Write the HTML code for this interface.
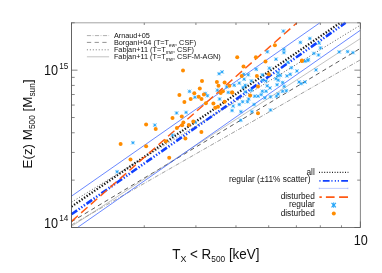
<!DOCTYPE html>
<html><head><meta charset="utf-8"><title>plot</title>
<style>
html,body{margin:0;padding:0;background:#fff;}
svg{display:block;will-change:transform;transform:translateZ(0);}
text{font-family:"Liberation Sans",sans-serif;fill:#111;}
</style></head><body>
<svg width="382" height="273" viewBox="0 0 382 273">
<rect width="382" height="273" fill="#fff"/>
<line x1="71.5" y1="224.94" x2="360.4" y2="59.84" stroke="#606060" stroke-width="0.6" stroke-dasharray="4.2 1.5 0.8 1.5" stroke-linecap="butt" />
<line x1="71.5" y1="221.74" x2="360.4" y2="48.34" stroke="#484848" stroke-width="0.9" stroke-dasharray="4.3 3.4" stroke-linecap="butt" />
<line x1="71.5" y1="202.24" x2="360.4" y2="25.14" stroke="#333" stroke-width="0.8" stroke-dasharray="1 2" stroke-linecap="butt" />
<line x1="71.5" y1="226.33" x2="360.4" y2="38.53" stroke="#999" stroke-width="0.6" stroke-linecap="butt" />
<line x1="71.5" y1="196.13" x2="319.84" y2="22.8" stroke="#2a55ff" stroke-width="0.7" stroke-linecap="butt" />
<line x1="77.5" y1="227.5" x2="360.4" y2="30.23" stroke="#2a55ff" stroke-width="0.7" stroke-linecap="butt" />
<line x1="71.5" y1="206.6" x2="340.2" y2="22.8" stroke="#111" stroke-width="2.3" stroke-dasharray="1.3 1.75" stroke-linecap="butt" />
<line x1="71.5" y1="214.3" x2="345.6" y2="22.8" stroke="#1040ff" stroke-width="2.6" stroke-dasharray="6.9 1.85 1.3 1.85 1.3 1.85 1.3 1.9" stroke-linecap="butt" />
<line x1="71.5" y1="221.4" x2="296.9" y2="22.8" stroke="#ff5a14" stroke-width="1.45" stroke-dasharray="8.5 4.37" stroke-linecap="butt" />
<defs><filter id="sb" x="-5%" y="-5%" width="110%" height="110%"><feGaussianBlur stdDeviation="0.4"/></filter></defs><g filter="url(#sb)">
<path d="M187.75 89.65L191.25 93.15M187.75 93.15L191.25 89.65" stroke="#25a5f8" stroke-width="0.7" fill="none"/><path d="M189.50 89.50V93.30M187.60 91.40H191.40" stroke="#25a5f8" stroke-width="0.45" fill="none"/><circle cx="189.50" cy="91.40" r="0.95" fill="#25a5f8"/>
<path d="M217.35 71.95L220.85 75.45M217.35 75.45L220.85 71.95" stroke="#25a5f8" stroke-width="0.7" fill="none"/><path d="M219.10 71.80V75.60M217.20 73.70H221.00" stroke="#25a5f8" stroke-width="0.45" fill="none"/><circle cx="219.10" cy="73.70" r="0.95" fill="#25a5f8"/>
<path d="M220.35 70.15L223.85 73.65M220.35 73.65L223.85 70.15" stroke="#25a5f8" stroke-width="0.7" fill="none"/><path d="M222.10 70.00V73.80M220.20 71.90H224.00" stroke="#25a5f8" stroke-width="0.45" fill="none"/><circle cx="222.10" cy="71.90" r="0.95" fill="#25a5f8"/>
<path d="M254.55 67.55L258.05 71.05M254.55 71.05L258.05 67.55" stroke="#25a5f8" stroke-width="0.7" fill="none"/><path d="M256.30 67.40V71.20M254.40 69.30H258.20" stroke="#25a5f8" stroke-width="0.45" fill="none"/><circle cx="256.30" cy="69.30" r="0.95" fill="#25a5f8"/>
<path d="M241.95 72.55L245.45 76.05M241.95 76.05L245.45 72.55" stroke="#25a5f8" stroke-width="0.7" fill="none"/><path d="M243.70 72.40V76.20M241.80 74.30H245.60" stroke="#25a5f8" stroke-width="0.45" fill="none"/><circle cx="243.70" cy="74.30" r="0.95" fill="#25a5f8"/>
<path d="M246.55 73.05L250.05 76.55M246.55 76.55L250.05 73.05" stroke="#25a5f8" stroke-width="0.7" fill="none"/><path d="M248.30 72.90V76.70M246.40 74.80H250.20" stroke="#25a5f8" stroke-width="0.45" fill="none"/><circle cx="248.30" cy="74.80" r="0.95" fill="#25a5f8"/>
<path d="M242.45 77.45L245.95 80.95M242.45 80.95L245.95 77.45" stroke="#25a5f8" stroke-width="0.7" fill="none"/><path d="M244.20 77.30V81.10M242.30 79.20H246.10" stroke="#25a5f8" stroke-width="0.45" fill="none"/><circle cx="244.20" cy="79.20" r="0.95" fill="#25a5f8"/>
<path d="M237.55 81.35L241.05 84.85M237.55 84.85L241.05 81.35" stroke="#25a5f8" stroke-width="0.7" fill="none"/><path d="M239.30 81.20V85.00M237.40 83.10H241.20" stroke="#25a5f8" stroke-width="0.45" fill="none"/><circle cx="239.30" cy="83.10" r="0.95" fill="#25a5f8"/>
<path d="M232.55 83.55L236.05 87.05M232.55 87.05L236.05 83.55" stroke="#25a5f8" stroke-width="0.7" fill="none"/><path d="M234.30 83.40V87.20M232.40 85.30H236.20" stroke="#25a5f8" stroke-width="0.45" fill="none"/><circle cx="234.30" cy="85.30" r="0.95" fill="#25a5f8"/>
<path d="M249.65 79.15L253.15 82.65M249.65 82.65L253.15 79.15" stroke="#25a5f8" stroke-width="0.7" fill="none"/><path d="M251.40 79.00V82.80M249.50 80.90H253.30" stroke="#25a5f8" stroke-width="0.45" fill="none"/><circle cx="251.40" cy="80.90" r="0.95" fill="#25a5f8"/>
<path d="M243.55 83.55L247.05 87.05M243.55 87.05L247.05 83.55" stroke="#25a5f8" stroke-width="0.7" fill="none"/><path d="M245.30 83.40V87.20M243.40 85.30H247.20" stroke="#25a5f8" stroke-width="0.45" fill="none"/><circle cx="245.30" cy="85.30" r="0.95" fill="#25a5f8"/>
<path d="M241.35 85.75L244.85 89.25M241.35 89.25L244.85 85.75" stroke="#25a5f8" stroke-width="0.7" fill="none"/><path d="M243.10 85.60V89.40M241.20 87.50H245.00" stroke="#25a5f8" stroke-width="0.45" fill="none"/><circle cx="243.10" cy="87.50" r="0.95" fill="#25a5f8"/>
<path d="M260.65 73.05L264.15 76.55M260.65 76.55L264.15 73.05" stroke="#25a5f8" stroke-width="0.7" fill="none"/><path d="M262.40 72.90V76.70M260.50 74.80H264.30" stroke="#25a5f8" stroke-width="0.45" fill="none"/><circle cx="262.40" cy="74.80" r="0.95" fill="#25a5f8"/>
<path d="M260.65 78.55L264.15 82.05M260.65 82.05L264.15 78.55" stroke="#25a5f8" stroke-width="0.7" fill="none"/><path d="M262.40 78.40V82.20M260.50 80.30H264.30" stroke="#25a5f8" stroke-width="0.45" fill="none"/><circle cx="262.40" cy="80.30" r="0.95" fill="#25a5f8"/>
<path d="M224.85 85.15L228.35 88.65M224.85 88.65L228.35 85.15" stroke="#25a5f8" stroke-width="0.7" fill="none"/><path d="M226.60 85.00V88.80M224.70 86.90H228.50" stroke="#25a5f8" stroke-width="0.45" fill="none"/><circle cx="226.60" cy="86.90" r="0.95" fill="#25a5f8"/>
<path d="M267.65 66.45L271.15 69.95M267.65 69.95L271.15 66.45" stroke="#25a5f8" stroke-width="0.7" fill="none"/><path d="M269.40 66.30V70.10M267.50 68.20H271.30" stroke="#25a5f8" stroke-width="0.45" fill="none"/><circle cx="269.40" cy="68.20" r="0.95" fill="#25a5f8"/>
<path d="M289.65 65.95L293.15 69.45M289.65 69.45L293.15 65.95" stroke="#25a5f8" stroke-width="0.7" fill="none"/><path d="M291.40 65.80V69.60M289.50 67.70H293.30" stroke="#25a5f8" stroke-width="0.45" fill="none"/><circle cx="291.40" cy="67.70" r="0.95" fill="#25a5f8"/>
<path d="M295.15 69.25L298.65 72.75M295.15 72.75L298.65 69.25" stroke="#25a5f8" stroke-width="0.7" fill="none"/><path d="M296.90 69.10V72.90M295.00 71.00H298.80" stroke="#25a5f8" stroke-width="0.45" fill="none"/><circle cx="296.90" cy="71.00" r="0.95" fill="#25a5f8"/>
<path d="M288.55 72.55L292.05 76.05M288.55 76.05L292.05 72.55" stroke="#25a5f8" stroke-width="0.7" fill="none"/><path d="M290.30 72.40V76.20M288.40 74.30H292.20" stroke="#25a5f8" stroke-width="0.45" fill="none"/><circle cx="290.30" cy="74.30" r="0.95" fill="#25a5f8"/>
<path d="M285.25 74.15L288.75 77.65M285.25 77.65L288.75 74.15" stroke="#25a5f8" stroke-width="0.7" fill="none"/><path d="M287.00 74.00V77.80M285.10 75.90H288.90" stroke="#25a5f8" stroke-width="0.45" fill="none"/><circle cx="287.00" cy="75.90" r="0.95" fill="#25a5f8"/>
<path d="M278.65 73.65L282.15 77.15M278.65 77.15L282.15 73.65" stroke="#25a5f8" stroke-width="0.7" fill="none"/><path d="M280.40 73.50V77.30M278.50 75.40H282.30" stroke="#25a5f8" stroke-width="0.45" fill="none"/><circle cx="280.40" cy="75.40" r="0.95" fill="#25a5f8"/>
<path d="M274.25 76.95L277.75 80.45M274.25 80.45L277.75 76.95" stroke="#25a5f8" stroke-width="0.7" fill="none"/><path d="M276.00 76.80V80.60M274.10 78.70H277.90" stroke="#25a5f8" stroke-width="0.45" fill="none"/><circle cx="276.00" cy="78.70" r="0.95" fill="#25a5f8"/>
<path d="M264.35 79.15L267.85 82.65M264.35 82.65L267.85 79.15" stroke="#25a5f8" stroke-width="0.7" fill="none"/><path d="M266.10 79.00V82.80M264.20 80.90H268.00" stroke="#25a5f8" stroke-width="0.45" fill="none"/><circle cx="266.10" cy="80.90" r="0.95" fill="#25a5f8"/>
<path d="M275.35 82.95L278.85 86.45M275.35 86.45L278.85 82.95" stroke="#25a5f8" stroke-width="0.7" fill="none"/><path d="M277.10 82.80V86.60M275.20 84.70H279.00" stroke="#25a5f8" stroke-width="0.45" fill="none"/><circle cx="277.10" cy="84.70" r="0.95" fill="#25a5f8"/>
<path d="M280.85 80.75L284.35 84.25M280.85 84.25L284.35 80.75" stroke="#25a5f8" stroke-width="0.7" fill="none"/><path d="M282.60 80.60V84.40M280.70 82.50H284.50" stroke="#25a5f8" stroke-width="0.45" fill="none"/><circle cx="282.60" cy="82.50" r="0.95" fill="#25a5f8"/>
<path d="M265.45 84.05L268.95 87.55M265.45 87.55L268.95 84.05" stroke="#25a5f8" stroke-width="0.7" fill="none"/><path d="M267.20 83.90V87.70M265.30 85.80H269.10" stroke="#25a5f8" stroke-width="0.45" fill="none"/><circle cx="267.20" cy="85.80" r="0.95" fill="#25a5f8"/>
<path d="M268.25 86.25L271.75 89.75M268.25 89.75L271.75 86.25" stroke="#25a5f8" stroke-width="0.7" fill="none"/><path d="M270.00 86.10V89.90M268.10 88.00H271.90" stroke="#25a5f8" stroke-width="0.45" fill="none"/><circle cx="270.00" cy="88.00" r="0.95" fill="#25a5f8"/>
<path d="M297.35 80.25L300.85 83.75M297.35 83.75L300.85 80.25" stroke="#25a5f8" stroke-width="0.7" fill="none"/><path d="M299.10 80.10V83.90M297.20 82.00H301.00" stroke="#25a5f8" stroke-width="0.45" fill="none"/><circle cx="299.10" cy="82.00" r="0.95" fill="#25a5f8"/>
<path d="M299.55 81.85L303.05 85.35M299.55 85.35L303.05 81.85" stroke="#25a5f8" stroke-width="0.7" fill="none"/><path d="M301.30 81.70V85.50M299.40 83.60H303.20" stroke="#25a5f8" stroke-width="0.45" fill="none"/><circle cx="301.30" cy="83.60" r="0.95" fill="#25a5f8"/>
<path d="M282.45 84.65L285.95 88.15M282.45 88.15L285.95 84.65" stroke="#25a5f8" stroke-width="0.7" fill="none"/><path d="M284.20 84.50V88.30M282.30 86.40H286.10" stroke="#25a5f8" stroke-width="0.45" fill="none"/><circle cx="284.20" cy="86.40" r="0.95" fill="#25a5f8"/>
<path d="M276.45 70.85L279.95 74.35M276.45 74.35L279.95 70.85" stroke="#25a5f8" stroke-width="0.7" fill="none"/><path d="M278.20 70.70V74.50M276.30 72.60H280.10" stroke="#25a5f8" stroke-width="0.45" fill="none"/><circle cx="278.20" cy="72.60" r="0.95" fill="#25a5f8"/>
<path d="M314.25 68.15L317.75 71.65M314.25 71.65L317.75 68.15" stroke="#25a5f8" stroke-width="0.7" fill="none"/><path d="M316.00 68.00V71.80M314.10 69.90H317.90" stroke="#25a5f8" stroke-width="0.45" fill="none"/><circle cx="316.00" cy="69.90" r="0.95" fill="#25a5f8"/>
<path d="M337.45 50.15L340.95 53.65M337.45 53.65L340.95 50.15" stroke="#25a5f8" stroke-width="0.7" fill="none"/><path d="M339.20 50.00V53.80M337.30 51.90H341.10" stroke="#25a5f8" stroke-width="0.45" fill="none"/><circle cx="339.20" cy="51.90" r="0.95" fill="#25a5f8"/>
<path d="M345.85 49.85L349.35 53.35M345.85 53.35L349.35 49.85" stroke="#25a5f8" stroke-width="0.7" fill="none"/><path d="M347.60 49.70V53.50M345.70 51.60H349.50" stroke="#25a5f8" stroke-width="0.45" fill="none"/><circle cx="347.60" cy="51.60" r="0.95" fill="#25a5f8"/>
<path d="M351.25 50.85L354.75 54.35M351.25 54.35L354.75 50.85" stroke="#25a5f8" stroke-width="0.7" fill="none"/><path d="M353.00 50.70V54.50M351.10 52.60H354.90" stroke="#25a5f8" stroke-width="0.45" fill="none"/><circle cx="353.00" cy="52.60" r="0.95" fill="#25a5f8"/>
<path d="M303.25 80.25L306.75 83.75M303.25 83.75L306.75 80.25" stroke="#25a5f8" stroke-width="0.7" fill="none"/><path d="M305.00 80.10V83.90M303.10 82.00H306.90" stroke="#25a5f8" stroke-width="0.45" fill="none"/><circle cx="305.00" cy="82.00" r="0.95" fill="#25a5f8"/>
<path d="M305.95 58.75L309.45 62.25M305.95 62.25L309.45 58.75" stroke="#25a5f8" stroke-width="0.7" fill="none"/><path d="M307.70 58.60V62.40M305.80 60.50H309.60" stroke="#25a5f8" stroke-width="0.45" fill="none"/><circle cx="307.70" cy="60.50" r="0.95" fill="#25a5f8"/>
<path d="M265.65 50.05L269.15 53.55M265.65 53.55L269.15 50.05" stroke="#25a5f8" stroke-width="0.7" fill="none"/><path d="M267.40 49.90V53.70M265.50 51.80H269.30" stroke="#25a5f8" stroke-width="0.45" fill="none"/><circle cx="267.40" cy="51.80" r="0.95" fill="#25a5f8"/>
<path d="M274.25 57.45L277.75 60.95M274.25 60.95L277.75 57.45" stroke="#25a5f8" stroke-width="0.7" fill="none"/><path d="M276.00 57.30V61.10M274.10 59.20H277.90" stroke="#25a5f8" stroke-width="0.45" fill="none"/><circle cx="276.00" cy="59.20" r="0.95" fill="#25a5f8"/>
<path d="M281.65 29.35L285.15 32.85M281.65 32.85L285.15 29.35" stroke="#25a5f8" stroke-width="0.7" fill="none"/><path d="M283.40 29.20V33.00M281.50 31.10H285.30" stroke="#25a5f8" stroke-width="0.45" fill="none"/><circle cx="283.40" cy="31.10" r="0.95" fill="#25a5f8"/>
<path d="M282.15 50.85L285.65 54.35M282.15 54.35L285.65 50.85" stroke="#25a5f8" stroke-width="0.7" fill="none"/><path d="M283.90 50.70V54.50M282.00 52.60H285.80" stroke="#25a5f8" stroke-width="0.45" fill="none"/><circle cx="283.90" cy="52.60" r="0.95" fill="#25a5f8"/>
<path d="M308.05 36.75L311.55 40.25M308.05 40.25L311.55 36.75" stroke="#25a5f8" stroke-width="0.7" fill="none"/><path d="M309.80 36.60V40.40M307.90 38.50H311.70" stroke="#25a5f8" stroke-width="0.45" fill="none"/><circle cx="309.80" cy="38.50" r="0.95" fill="#25a5f8"/>
<path d="M298.65 40.65L302.15 44.15M298.65 44.15L302.15 40.65" stroke="#25a5f8" stroke-width="0.7" fill="none"/><path d="M300.40 40.50V44.30M298.50 42.40H302.30" stroke="#25a5f8" stroke-width="0.45" fill="none"/><circle cx="300.40" cy="42.40" r="0.95" fill="#25a5f8"/>
<path d="M317.45 41.45L320.95 44.95M317.45 44.95L320.95 41.45" stroke="#25a5f8" stroke-width="0.7" fill="none"/><path d="M319.20 41.30V45.10M317.30 43.20H321.10" stroke="#25a5f8" stroke-width="0.45" fill="none"/><circle cx="319.20" cy="43.20" r="0.95" fill="#25a5f8"/>
<path d="M318.75 46.15L322.25 49.65M318.75 49.65L322.25 46.15" stroke="#25a5f8" stroke-width="0.7" fill="none"/><path d="M320.50 46.00V49.80M318.60 47.90H322.40" stroke="#25a5f8" stroke-width="0.45" fill="none"/><circle cx="320.50" cy="47.90" r="0.95" fill="#25a5f8"/>
<path d="M282.15 47.75L285.65 51.25M282.15 51.25L285.65 47.75" stroke="#25a5f8" stroke-width="0.7" fill="none"/><path d="M283.90 47.60V51.40M282.00 49.50H285.80" stroke="#25a5f8" stroke-width="0.45" fill="none"/><circle cx="283.90" cy="49.50" r="0.95" fill="#25a5f8"/>
<path d="M312.05 51.65L315.55 55.15M312.05 55.15L315.55 51.65" stroke="#25a5f8" stroke-width="0.7" fill="none"/><path d="M313.80 51.50V55.30M311.90 53.40H315.70" stroke="#25a5f8" stroke-width="0.45" fill="none"/><circle cx="313.80" cy="53.40" r="0.95" fill="#25a5f8"/>
<path d="M316.75 53.25L320.25 56.75M316.75 56.75L320.25 53.25" stroke="#25a5f8" stroke-width="0.7" fill="none"/><path d="M318.50 53.10V56.90M316.60 55.00H320.40" stroke="#25a5f8" stroke-width="0.45" fill="none"/><circle cx="318.50" cy="55.00" r="0.95" fill="#25a5f8"/>
<path d="M306.55 57.95L310.05 61.45M306.55 61.45L310.05 57.95" stroke="#25a5f8" stroke-width="0.7" fill="none"/><path d="M308.30 57.80V61.60M306.40 59.70H310.20" stroke="#25a5f8" stroke-width="0.45" fill="none"/><circle cx="308.30" cy="59.70" r="0.95" fill="#25a5f8"/>
<path d="M286.05 60.55L289.55 64.05M286.05 64.05L289.55 60.55" stroke="#25a5f8" stroke-width="0.7" fill="none"/><path d="M287.80 60.40V64.20M285.90 62.30H289.70" stroke="#25a5f8" stroke-width="0.45" fill="none"/><circle cx="287.80" cy="62.30" r="0.95" fill="#25a5f8"/>
<path d="M303.15 59.55L306.65 63.05M303.15 63.05L306.65 59.55" stroke="#25a5f8" stroke-width="0.7" fill="none"/><path d="M304.90 59.40V63.20M303.00 61.30H306.80" stroke="#25a5f8" stroke-width="0.45" fill="none"/><circle cx="304.90" cy="61.30" r="0.95" fill="#25a5f8"/>
<path d="M276.15 73.95L279.65 77.45M276.15 77.45L279.65 73.95" stroke="#25a5f8" stroke-width="0.7" fill="none"/><path d="M277.90 73.80V77.60M276.00 75.70H279.80" stroke="#25a5f8" stroke-width="0.45" fill="none"/><circle cx="277.90" cy="75.70" r="0.95" fill="#25a5f8"/>
<path d="M276.55 78.45L280.05 81.95M276.55 81.95L280.05 78.45" stroke="#25a5f8" stroke-width="0.7" fill="none"/><path d="M278.30 78.30V82.10M276.40 80.20H280.20" stroke="#25a5f8" stroke-width="0.45" fill="none"/><circle cx="278.30" cy="80.20" r="0.95" fill="#25a5f8"/>
<path d="M203.55 91.75L207.05 95.25M203.55 95.25L207.05 91.75" stroke="#25a5f8" stroke-width="0.7" fill="none"/><path d="M205.30 91.60V95.40M203.40 93.50H207.20" stroke="#25a5f8" stroke-width="0.45" fill="none"/><circle cx="205.30" cy="93.50" r="0.95" fill="#25a5f8"/>
<path d="M205.75 93.95L209.25 97.45M205.75 97.45L209.25 93.95" stroke="#25a5f8" stroke-width="0.7" fill="none"/><path d="M207.50 93.80V97.60M205.60 95.70H209.40" stroke="#25a5f8" stroke-width="0.45" fill="none"/><circle cx="207.50" cy="95.70" r="0.95" fill="#25a5f8"/>
<path d="M193.15 95.55L196.65 99.05M193.15 99.05L196.65 95.55" stroke="#25a5f8" stroke-width="0.7" fill="none"/><path d="M194.90 95.40V99.20M193.00 97.30H196.80" stroke="#25a5f8" stroke-width="0.45" fill="none"/><circle cx="194.90" cy="97.30" r="0.95" fill="#25a5f8"/>
<path d="M215.65 88.45L219.15 91.95M215.65 91.95L219.15 88.45" stroke="#25a5f8" stroke-width="0.7" fill="none"/><path d="M217.40 88.30V92.10M215.50 90.20H219.30" stroke="#25a5f8" stroke-width="0.45" fill="none"/><circle cx="217.40" cy="90.20" r="0.95" fill="#25a5f8"/>
<path d="M217.85 97.25L221.35 100.75M217.85 100.75L221.35 97.25" stroke="#25a5f8" stroke-width="0.7" fill="none"/><path d="M219.60 97.10V100.90M217.70 99.00H221.50" stroke="#25a5f8" stroke-width="0.45" fill="none"/><circle cx="219.60" cy="99.00" r="0.95" fill="#25a5f8"/>
<path d="M184.35 110.65L187.85 114.15M184.35 114.15L187.85 110.65" stroke="#25a5f8" stroke-width="0.7" fill="none"/><path d="M186.10 110.50V114.30M184.20 112.40H188.00" stroke="#25a5f8" stroke-width="0.45" fill="none"/><circle cx="186.10" cy="112.40" r="0.95" fill="#25a5f8"/>
<path d="M226.55 90.65L230.05 94.15M226.55 94.15L230.05 90.65" stroke="#25a5f8" stroke-width="0.7" fill="none"/><path d="M228.30 90.50V94.30M226.40 92.40H230.20" stroke="#25a5f8" stroke-width="0.45" fill="none"/><circle cx="228.30" cy="92.40" r="0.95" fill="#25a5f8"/>
<path d="M243.55 90.05L247.05 93.55M243.55 93.55L247.05 90.05" stroke="#25a5f8" stroke-width="0.7" fill="none"/><path d="M245.30 89.90V93.70M243.40 91.80H247.20" stroke="#25a5f8" stroke-width="0.45" fill="none"/><circle cx="245.30" cy="91.80" r="0.95" fill="#25a5f8"/>
<path d="M246.85 97.25L250.35 100.75M246.85 100.75L250.35 97.25" stroke="#25a5f8" stroke-width="0.7" fill="none"/><path d="M248.60 97.10V100.90M246.70 99.00H250.50" stroke="#25a5f8" stroke-width="0.45" fill="none"/><circle cx="248.60" cy="99.00" r="0.95" fill="#25a5f8"/>
<path d="M240.85 99.95L244.35 103.45M240.85 103.45L244.35 99.95" stroke="#25a5f8" stroke-width="0.7" fill="none"/><path d="M242.60 99.80V103.60M240.70 101.70H244.50" stroke="#25a5f8" stroke-width="0.45" fill="none"/><circle cx="242.60" cy="101.70" r="0.95" fill="#25a5f8"/>
<path d="M237.55 102.75L241.05 106.25M237.55 106.25L241.05 102.75" stroke="#25a5f8" stroke-width="0.7" fill="none"/><path d="M239.30 102.60V106.40M237.40 104.50H241.20" stroke="#25a5f8" stroke-width="0.45" fill="none"/><circle cx="239.30" cy="104.50" r="0.95" fill="#25a5f8"/>
<path d="M245.75 99.95L249.25 103.45M245.75 103.45L249.25 99.95" stroke="#25a5f8" stroke-width="0.7" fill="none"/><path d="M247.50 99.80V103.60M245.60 101.70H249.40" stroke="#25a5f8" stroke-width="0.45" fill="none"/><circle cx="247.50" cy="101.70" r="0.95" fill="#25a5f8"/>
<path d="M231.45 104.35L234.95 107.85M231.45 107.85L234.95 104.35" stroke="#25a5f8" stroke-width="0.7" fill="none"/><path d="M233.20 104.20V108.00M231.30 106.10H235.10" stroke="#25a5f8" stroke-width="0.45" fill="none"/><circle cx="233.20" cy="106.10" r="0.95" fill="#25a5f8"/>
<path d="M230.35 108.75L233.85 112.25M230.35 112.25L233.85 108.75" stroke="#25a5f8" stroke-width="0.7" fill="none"/><path d="M232.10 108.60V112.40M230.20 110.50H234.00" stroke="#25a5f8" stroke-width="0.45" fill="none"/><circle cx="232.10" cy="110.50" r="0.95" fill="#25a5f8"/>
<path d="M239.15 109.85L242.65 113.35M239.15 113.35L242.65 109.85" stroke="#25a5f8" stroke-width="0.7" fill="none"/><path d="M240.90 109.70V113.50M239.00 111.60H242.80" stroke="#25a5f8" stroke-width="0.45" fill="none"/><circle cx="240.90" cy="111.60" r="0.95" fill="#25a5f8"/>
<path d="M250.15 109.85L253.65 113.35M250.15 113.35L253.65 109.85" stroke="#25a5f8" stroke-width="0.7" fill="none"/><path d="M251.90 109.70V113.50M250.00 111.60H253.80" stroke="#25a5f8" stroke-width="0.45" fill="none"/><circle cx="251.90" cy="111.60" r="0.95" fill="#25a5f8"/>
<path d="M252.35 102.75L255.85 106.25M252.35 106.25L255.85 102.75" stroke="#25a5f8" stroke-width="0.7" fill="none"/><path d="M254.10 102.60V106.40M252.20 104.50H256.00" stroke="#25a5f8" stroke-width="0.45" fill="none"/><circle cx="254.10" cy="104.50" r="0.95" fill="#25a5f8"/>
<path d="M256.25 94.45L259.75 97.95M256.25 97.95L259.75 94.45" stroke="#25a5f8" stroke-width="0.7" fill="none"/><path d="M258.00 94.30V98.10M256.10 96.20H259.90" stroke="#25a5f8" stroke-width="0.45" fill="none"/><circle cx="258.00" cy="96.20" r="0.95" fill="#25a5f8"/>
<path d="M259.55 92.85L263.05 96.35M259.55 96.35L263.05 92.85" stroke="#25a5f8" stroke-width="0.7" fill="none"/><path d="M261.30 92.70V96.50M259.40 94.60H263.20" stroke="#25a5f8" stroke-width="0.45" fill="none"/><circle cx="261.30" cy="94.60" r="0.95" fill="#25a5f8"/>
<path d="M260.65 89.55L264.15 93.05M260.65 93.05L264.15 89.55" stroke="#25a5f8" stroke-width="0.7" fill="none"/><path d="M262.40 89.40V93.20M260.50 91.30H264.30" stroke="#25a5f8" stroke-width="0.45" fill="none"/><circle cx="262.40" cy="91.30" r="0.95" fill="#25a5f8"/>
<path d="M252.95 94.45L256.45 97.95M252.95 97.95L256.45 94.45" stroke="#25a5f8" stroke-width="0.7" fill="none"/><path d="M254.70 94.30V98.10M252.80 96.20H256.60" stroke="#25a5f8" stroke-width="0.45" fill="none"/><circle cx="254.70" cy="96.20" r="0.95" fill="#25a5f8"/>
<path d="M249.65 88.45L253.15 91.95M249.65 91.95L253.15 88.45" stroke="#25a5f8" stroke-width="0.7" fill="none"/><path d="M251.40 88.30V92.10M249.50 90.20H253.30" stroke="#25a5f8" stroke-width="0.45" fill="none"/><circle cx="251.40" cy="90.20" r="0.95" fill="#25a5f8"/>
<path d="M264.35 89.55L267.85 93.05M264.35 93.05L267.85 89.55" stroke="#25a5f8" stroke-width="0.7" fill="none"/><path d="M266.10 89.40V93.20M264.20 91.30H268.00" stroke="#25a5f8" stroke-width="0.45" fill="none"/><circle cx="266.10" cy="91.30" r="0.95" fill="#25a5f8"/>
<path d="M280.85 89.55L284.35 93.05M280.85 93.05L284.35 89.55" stroke="#25a5f8" stroke-width="0.7" fill="none"/><path d="M282.60 89.40V93.20M280.70 91.30H284.50" stroke="#25a5f8" stroke-width="0.45" fill="none"/><circle cx="282.60" cy="91.30" r="0.95" fill="#25a5f8"/>
<path d="M284.65 88.95L288.15 92.45M284.65 92.45L288.15 88.95" stroke="#25a5f8" stroke-width="0.7" fill="none"/><path d="M286.40 88.80V92.60M284.50 90.70H288.30" stroke="#25a5f8" stroke-width="0.45" fill="none"/><circle cx="286.40" cy="90.70" r="0.95" fill="#25a5f8"/>
<path d="M276.45 92.25L279.95 95.75M276.45 95.75L279.95 92.25" stroke="#25a5f8" stroke-width="0.7" fill="none"/><path d="M278.20 92.10V95.90M276.30 94.00H280.10" stroke="#25a5f8" stroke-width="0.45" fill="none"/><circle cx="278.20" cy="94.00" r="0.95" fill="#25a5f8"/>
<path d="M274.75 94.45L278.25 97.95M274.75 97.95L278.25 94.45" stroke="#25a5f8" stroke-width="0.7" fill="none"/><path d="M276.50 94.30V98.10M274.60 96.20H278.40" stroke="#25a5f8" stroke-width="0.45" fill="none"/><circle cx="276.50" cy="96.20" r="0.95" fill="#25a5f8"/>
<path d="M268.75 95.05L272.25 98.55M268.75 98.55L272.25 95.05" stroke="#25a5f8" stroke-width="0.7" fill="none"/><path d="M270.50 94.90V98.70M268.60 96.80H272.40" stroke="#25a5f8" stroke-width="0.45" fill="none"/><circle cx="270.50" cy="96.80" r="0.95" fill="#25a5f8"/>
<path d="M268.75 108.25L272.25 111.75M268.75 111.75L272.25 108.25" stroke="#25a5f8" stroke-width="0.7" fill="none"/><path d="M270.50 108.10V111.90M268.60 110.00H272.40" stroke="#25a5f8" stroke-width="0.45" fill="none"/><circle cx="270.50" cy="110.00" r="0.95" fill="#25a5f8"/>
<path d="M263.25 96.15L266.75 99.65M263.25 99.65L266.75 96.15" stroke="#25a5f8" stroke-width="0.7" fill="none"/><path d="M265.00 96.00V99.80M263.10 97.90H266.90" stroke="#25a5f8" stroke-width="0.45" fill="none"/><circle cx="265.00" cy="97.90" r="0.95" fill="#25a5f8"/>
<path d="M238.95 118.55L242.45 122.05M238.95 122.05L242.45 118.55" stroke="#25a5f8" stroke-width="0.7" fill="none"/><path d="M240.70 118.40V122.20M238.80 120.30H242.60" stroke="#25a5f8" stroke-width="0.45" fill="none"/><circle cx="240.70" cy="120.30" r="0.95" fill="#25a5f8"/>
<path d="M174.85 111.25L178.35 114.75M174.85 114.75L178.35 111.25" stroke="#25a5f8" stroke-width="0.7" fill="none"/><path d="M176.60 111.10V114.90M174.70 113.00H178.50" stroke="#25a5f8" stroke-width="0.45" fill="none"/><circle cx="176.60" cy="113.00" r="0.95" fill="#25a5f8"/>
<path d="M153.05 123.35L156.55 126.85M153.05 126.85L156.55 123.35" stroke="#25a5f8" stroke-width="0.7" fill="none"/><path d="M154.80 123.20V127.00M152.90 125.10H156.70" stroke="#25a5f8" stroke-width="0.45" fill="none"/><circle cx="154.80" cy="125.10" r="0.95" fill="#25a5f8"/>
<path d="M170.75 133.35L174.25 136.85M170.75 136.85L174.25 133.35" stroke="#25a5f8" stroke-width="0.7" fill="none"/><path d="M172.50 133.20V137.00M170.60 135.10H174.40" stroke="#25a5f8" stroke-width="0.45" fill="none"/><circle cx="172.50" cy="135.10" r="0.95" fill="#25a5f8"/>
<path d="M131.15 140.95L134.65 144.45M131.15 144.45L134.65 140.95" stroke="#25a5f8" stroke-width="0.7" fill="none"/><path d="M132.90 140.80V144.60M131.00 142.70H134.80" stroke="#25a5f8" stroke-width="0.45" fill="none"/><circle cx="132.90" cy="142.70" r="0.95" fill="#25a5f8"/>
<path d="M115.35 169.95L118.85 173.45M115.35 173.45L118.85 169.95" stroke="#25a5f8" stroke-width="0.7" fill="none"/><path d="M117.10 169.80V173.60M115.20 171.70H119.00" stroke="#25a5f8" stroke-width="0.45" fill="none"/><circle cx="117.10" cy="171.70" r="0.95" fill="#25a5f8"/>
<path d="M193.55 120.55L197.05 124.05M193.55 124.05L197.05 120.55" stroke="#25a5f8" stroke-width="0.7" fill="none"/><path d="M195.30 120.40V124.20M193.40 122.30H197.20" stroke="#25a5f8" stroke-width="0.45" fill="none"/><circle cx="195.30" cy="122.30" r="0.95" fill="#25a5f8"/>
</g>
<circle cx="183.0" cy="70.4" r="2.0" fill="#ff8c00"/>
<circle cx="179.4" cy="95.1" r="2.0" fill="#ff8c00"/>
<circle cx="184.4" cy="102.1" r="2.0" fill="#ff8c00"/>
<circle cx="190.7" cy="99.0" r="2.0" fill="#ff8c00"/>
<circle cx="202" cy="80.9" r="2.0" fill="#ff8c00"/>
<circle cx="216.9" cy="82" r="2.0" fill="#ff8c00"/>
<circle cx="218.5" cy="85.8" r="2.0" fill="#ff8c00"/>
<circle cx="199.8" cy="88.4" r="2.0" fill="#ff8c00"/>
<circle cx="224.6" cy="82.5" r="2.0" fill="#ff8c00"/>
<circle cx="243.5" cy="66.6" r="2.0" fill="#ff8c00"/>
<circle cx="241.7" cy="75.9" r="2.0" fill="#ff8c00"/>
<circle cx="256.9" cy="75.9" r="2.0" fill="#ff8c00"/>
<circle cx="229.4" cy="85.8" r="2.0" fill="#ff8c00"/>
<circle cx="258" cy="86.4" r="2.0" fill="#ff8c00"/>
<circle cx="265.5" cy="61.6" r="2.0" fill="#ff8c00"/>
<circle cx="268.8" cy="74.3" r="2.0" fill="#ff8c00"/>
<circle cx="301.8" cy="61.1" r="2.0" fill="#ff8c00"/>
<circle cx="237.2" cy="57.3" r="2.0" fill="#ff8c00"/>
<circle cx="255.9" cy="57.3" r="2.0" fill="#ff8c00"/>
<circle cx="274.9" cy="45.2" r="2.0" fill="#ff8c00"/>
<circle cx="302" cy="60.5" r="2.0" fill="#ff8c00"/>
<circle cx="194.3" cy="93.3" r="2.0" fill="#ff8c00"/>
<circle cx="203.9" cy="94.4" r="2.0" fill="#ff8c00"/>
<circle cx="198.7" cy="96.8" r="2.0" fill="#ff8c00"/>
<circle cx="201.5" cy="99" r="2.0" fill="#ff8c00"/>
<circle cx="205.9" cy="103.2" r="2.0" fill="#ff8c00"/>
<circle cx="213.4" cy="103.4" r="2.0" fill="#ff8c00"/>
<circle cx="218" cy="106.7" r="2.0" fill="#ff8c00"/>
<circle cx="215.2" cy="107.8" r="2.0" fill="#ff8c00"/>
<circle cx="220.7" cy="92.9" r="2.0" fill="#ff8c00"/>
<circle cx="222.9" cy="91.3" r="2.0" fill="#ff8c00"/>
<circle cx="224.6" cy="101.7" r="2.0" fill="#ff8c00"/>
<circle cx="232.3" cy="92.5" r="2.0" fill="#ff8c00"/>
<circle cx="232.1" cy="92.6" r="2.0" fill="#ff8c00"/>
<circle cx="250.1" cy="95.5" r="2.0" fill="#ff8c00"/>
<circle cx="258" cy="113.3" r="2.0" fill="#ff8c00"/>
<circle cx="172.5" cy="118.1" r="2.0" fill="#ff8c00"/>
<circle cx="181.8" cy="116.5" r="2.0" fill="#ff8c00"/>
<circle cx="146.1" cy="124.4" r="2.0" fill="#ff8c00"/>
<circle cx="183.4" cy="122.6" r="2.0" fill="#ff8c00"/>
<circle cx="176.9" cy="128" r="2.0" fill="#ff8c00"/>
<circle cx="155.7" cy="129.1" r="2.0" fill="#ff8c00"/>
<circle cx="165.9" cy="141.2" r="2.0" fill="#ff8c00"/>
<circle cx="146.1" cy="146.2" r="2.0" fill="#ff8c00"/>
<circle cx="185.4" cy="138.4" r="2.0" fill="#ff8c00"/>
<circle cx="169.2" cy="157.7" r="2.0" fill="#ff8c00"/>
<circle cx="120.6" cy="143.9" r="2.0" fill="#ff8c00"/>
<circle cx="130.5" cy="159.5" r="2.0" fill="#ff8c00"/>
<circle cx="201.4" cy="132.1" r="2.0" fill="#ff8c00"/>
<circle cx="193.3" cy="121.5" r="2.0" fill="#ff8c00"/>
<circle cx="188.8" cy="125.1" r="2.0" fill="#ff8c00"/>
<circle cx="182.1" cy="125.3" r="2.0" fill="#ff8c00"/>
<path d="M71.5 22.400000000000002V227.9" stroke="#484848" stroke-width="0.85"/><path d="M71.5 227.5H360.4" stroke="#555" stroke-width="0.8"/><path d="M360.4 227.5V22.8" stroke="#666" stroke-width="0.8"/><path d="M360.4 22.8H71.5" stroke="#8c8c8c" stroke-width="0.8"/>
<path d="M71.5 227.50h6M360.4 227.50h-6" stroke="#555" stroke-width="0.7"/>
<path d="M71.5 180.14h3.2M360.4 180.14h-3.2" stroke="#555" stroke-width="0.7"/>
<path d="M71.5 152.43h3.2M360.4 152.43h-3.2" stroke="#555" stroke-width="0.7"/>
<path d="M71.5 132.77h3.2M360.4 132.77h-3.2" stroke="#555" stroke-width="0.7"/>
<path d="M71.5 117.53h3.2M360.4 117.53h-3.2" stroke="#555" stroke-width="0.7"/>
<path d="M71.5 105.07h3.2M360.4 105.07h-3.2" stroke="#555" stroke-width="0.7"/>
<path d="M71.5 94.53h3.2M360.4 94.53h-3.2" stroke="#555" stroke-width="0.7"/>
<path d="M71.5 85.41h3.2M360.4 85.41h-3.2" stroke="#555" stroke-width="0.7"/>
<path d="M71.5 77.36h3.2M360.4 77.36h-3.2" stroke="#555" stroke-width="0.7"/>
<path d="M71.5 70.16h6M360.4 70.16h-6" stroke="#555" stroke-width="0.7"/>
<path d="M71.5 22.8h3.2M360.4 22.8h-3.2" stroke="#555" stroke-width="0.7"/>
<path d="M71.50 227.5v-2.2M71.50 22.8v2.2" stroke="#555" stroke-width="0.7"/>
<path d="M144.28 227.5v-2.2M144.28 22.8v2.2" stroke="#555" stroke-width="0.7"/>
<path d="M195.92 227.5v-2.2M195.92 22.8v2.2" stroke="#555" stroke-width="0.7"/>
<path d="M235.98 227.5v-2.2M235.98 22.8v2.2" stroke="#555" stroke-width="0.7"/>
<path d="M268.70 227.5v-2.2M268.70 22.8v2.2" stroke="#555" stroke-width="0.7"/>
<path d="M296.38 227.5v-2.2M296.38 22.8v2.2" stroke="#555" stroke-width="0.7"/>
<path d="M320.34 227.5v-2.2M320.34 22.8v2.2" stroke="#555" stroke-width="0.7"/>
<path d="M341.49 227.5v-2.2M341.49 22.8v2.2" stroke="#555" stroke-width="0.7"/>
<path d="M360.40 227.5v-6M360.40 22.8v6" stroke="#555" stroke-width="0.7"/>
<text x="44.0" y="75.3" font-size="14.1" textLength="14.1" lengthAdjust="spacingAndGlyphs" fill="#1a1a1a">10</text><text x="59.3" y="68.6" font-size="8.2" fill="#1a1a1a">15</text>
<text x="44.0" y="227.6" font-size="14.1" textLength="14.1" lengthAdjust="spacingAndGlyphs" fill="#1a1a1a">10</text><text x="59.3" y="220.9" font-size="8.2" fill="#1a1a1a">14</text>
<text x="353.7" y="244.7" font-size="14.1" textLength="14.1" lengthAdjust="spacingAndGlyphs" fill="#1a1a1a">10</text>
<text transform="translate(172.2 259.3) scale(0.966 1)" font-size="13.9" fill="#1a1a1a">T<tspan dy="2.9" font-size="9.2">X</tspan><tspan dy="-2.9"> &lt; R</tspan><tspan dy="2.9" font-size="8.6">500</tspan><tspan dy="-2.9"> [keV]</tspan></text>
<text transform="translate(32.1 168.4) rotate(-90)" font-size="13.35" fill="#1a1a1a">E(z) M<tspan dy="2.8" font-size="8.4">500</tspan><tspan dy="-2.8"> [M</tspan><tspan dy="2.8" font-size="8.4">sun</tspan><tspan dy="-2.8">]</tspan></text>
<line x1="86.9" y1="35.6" x2="109.1" y2="35.6" stroke="#777" stroke-width="0.6" stroke-dasharray="4.2 1.5 0.8 1.5"/>
<line x1="86.9" y1="42.4" x2="109.1" y2="42.4" stroke="#666" stroke-width="0.7" stroke-dasharray="4.3 3.4"/>
<line x1="86.9" y1="49.8" x2="109.1" y2="49.8" stroke="#555" stroke-width="0.8" stroke-dasharray="1 1.96"/>
<line x1="86.9" y1="56.8" x2="109.1" y2="56.8" stroke="#999" stroke-width="0.6"/>
<text x="113.9" y="37.6" font-size="7.3">Arnaud+05</text>
<text x="113.9" y="44.6" font-size="7.3">Borgani+04 (T=T<tspan dy="1.9" font-size="4.7">ew</tspan><tspan dy="-1.9">, CSF)</tspan></text>
<text x="113.9" y="51.599999999999994" font-size="7.3">Fabjan+11 (T=T<tspan dy="1.9" font-size="4.7">mw</tspan><tspan dy="-1.9">, CSF)</tspan></text>
<text x="113.9" y="58.8" font-size="7.3">Fabjan+11 (T=T<tspan dy="1.9" font-size="4.7">mw</tspan><tspan dy="-1.9">, CSF-M-AGN)</tspan></text>
<text x="314.8" y="175.10000000000002" font-size="8.3" text-anchor="end">all</text>
<line x1="319.0" y1="172.45" x2="348.4" y2="172.45" stroke="#222" stroke-width="1.3" stroke-dasharray="1 1.6"/>
<text x="310.4" y="182.4" font-size="8.3" text-anchor="end">regular (±11% scatter)</text>
<line x1="319.4" y1="180.85" x2="348" y2="180.85" stroke="#1040ff" stroke-width="1.6" stroke-dasharray="1.1 2.3 6.8 1.8 1.1 2.3 1.1 1.9 1.1 2.3 6.8 9"/>
<path d="M319.2 188.4H347.9M319.2 187.6v1.6M347.9 187.6v1.6" stroke="#2a55ff" stroke-width="0.5" opacity="0.6" fill="none"/>
<text x="314.8" y="199.20000000000002" font-size="8.3" text-anchor="end">disturbed</text>
<line x1="319.4" y1="197.1" x2="348" y2="197.1" stroke="#ff5a14" stroke-width="1.8" stroke-dasharray="2.4 4.1 8.7 4.5 8.9 9"/>
<text x="314.8" y="206.9" font-size="8.3" text-anchor="end">regular</text>
<g filter="url(#sb)"><path d="M331.5 202.9L335.9 207.3M331.5 207.3L335.9 202.9" stroke="#25a5f8" stroke-width="1.15" fill="none"/><path d="M333.7 202.4V207.8M332.2 205.1H335.2" stroke="#25a5f8" stroke-width="1.0" fill="none"/></g>
<text x="314.8" y="215.6" font-size="8.3" text-anchor="end">disturbed</text>
<circle cx="333.8" cy="213.4" r="2.0" fill="#ff8c00"/>
</svg>
</body></html>
